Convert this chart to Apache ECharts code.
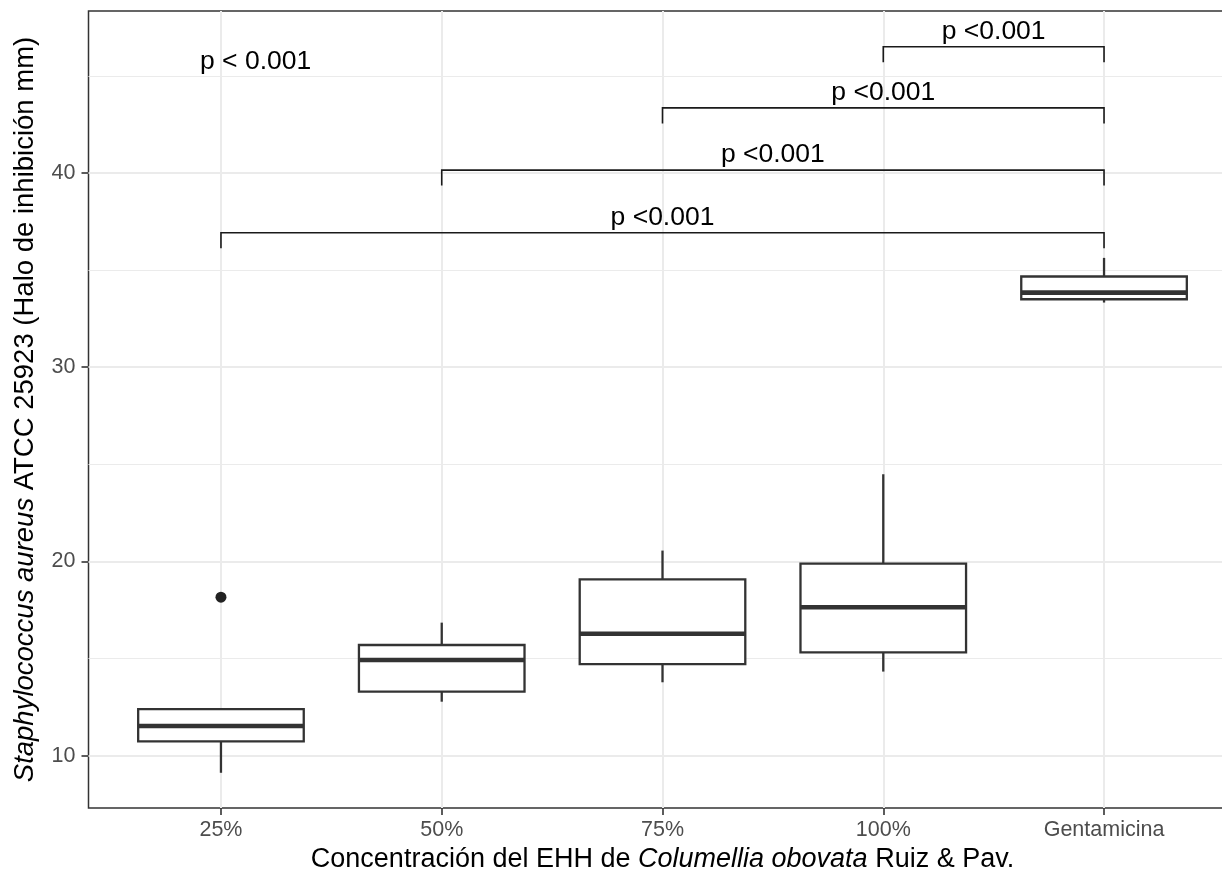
<!DOCTYPE html>
<html>
<head>
<meta charset="utf-8">
<script src="https://cdn.jsdelivr.net/npm/echarts@6/dist/echarts.min.js"></script>
<style>
  html, body { margin: 0; padding: 0; background: #ffffff; }
  #chart { width: 1222px; height: 874px; }
</style>
</head>
<body>
<div id="chart"></div>
<script>
// ---- data ----
const categories = ['25%', '50%', '75%', '100%', 'Gentamicina'];
const whiskerLow  = [9.12, 12.78, 13.78, 14.33, 33.33];
const q1          = [10.74, 13.30, 14.71, 15.32, 33.50];
const median      = [11.53, 14.93, 16.28, 17.64, 33.84];
const q3          = [12.40, 15.70, 19.08, 19.89, 34.67];
const whiskerHigh = [12.45, 16.85, 20.56, 24.49, 35.63];
const outliers    = [[1, 18.16]];

const bracketFrom   = [4, 3, 2, 1];
const bracketTo     = [5, 5, 5, 5];
const bracketY      = [46.5, 43.35, 40.15, 36.92];
const bracketLabels = ['p <0.001', 'p <0.001', 'p <0.001', 'p <0.001'];

const globalLabel    = 'p < 0.001';
const globalLabelPos = [0.905, 45.72];

const yTicks      = [10, 20, 30, 40];
const yMinorLines = [15, 25, 35, 45];
const xTicks      = [1, 2, 3, 4, 5];

// ---- styles ----
const FONT = '"Liberation Sans", Arial, Helvetica, sans-serif';
const INK = '#333333';
const GRID = '#ebebeb';
const BOX_WIDTH = 0.75;
const TICK_DROP = 0.8;

const chart = echarts.init(document.getElementById('chart'), null, { renderer: 'canvas' });

const boxData = categories.map((c, i) => [i + 1, whiskerLow[i], q1[i], median[i], q3[i], whiskerHigh[i]]);
const bracketData = bracketFrom.map((f, i) => [f, bracketTo[i], bracketY[i], i]);

function renderBox(params, api) {
  const x = api.value(0);
  const pLo = api.coord([x, api.value(1)]);
  const pQ1 = api.coord([x, api.value(2)]);
  const pMed = api.coord([x, api.value(3)]);
  const pQ3 = api.coord([x, api.value(4)]);
  const pHi = api.coord([x, api.value(5)]);
  const half = api.size([BOX_WIDTH, 0])[0] / 2;
  const cx = pLo[0];
  const ls = { stroke: INK, lineWidth: 2.3 };
  return {
    type: 'group',
    children: [
      { type: 'line', shape: { x1: cx, y1: pHi[1], x2: cx, y2: pQ3[1] }, style: ls },
      { type: 'line', shape: { x1: cx, y1: pQ1[1], x2: cx, y2: pLo[1] }, style: ls },
      { type: 'rect', shape: { x: cx - half, y: pQ3[1], width: 2 * half, height: pQ1[1] - pQ3[1] },
        style: { fill: '#ffffff', stroke: INK, lineWidth: 2.3 } },
      { type: 'line', shape: { x1: cx - half, y1: pMed[1], x2: cx + half, y2: pMed[1] },
        style: { stroke: INK, lineWidth: 4.6 } }
    ]
  };
}

function renderBracket(params, api) {
  const x1 = api.value(0), x2 = api.value(1), y = api.value(2);
  const idx = api.value(3);
  const p1 = api.coord([x1, y]);
  const p2 = api.coord([x2, y]);
  const drop = api.size([0, TICK_DROP])[1];
  return {
    type: 'group',
    children: [
      { type: 'polyline',
        shape: { points: [[p1[0], p1[1] + drop], [p1[0], p1[1]], [p2[0], p2[1]], [p2[0], p2[1] + drop]] },
        style: { stroke: '#1a1a1a', lineWidth: 1.6, fill: null } },
      { type: 'text',
        style: { x: (p1[0] + p2[0]) / 2, y: p1[1] - 15, text: bracketLabels[idx],
          fill: '#000000', font: '26.5px ' + FONT, textAlign: 'center', textVerticalAlign: 'middle' } }
    ]
  };
}

function renderGlobalLabel(params, api) {
  const p = api.coord([api.value(0), api.value(1)]);
  return {
    type: 'text',
    style: { x: p[0], y: p[1], text: globalLabel, fill: '#000000', font: '26.5px ' + FONT,
      textAlign: 'left', textVerticalAlign: 'middle' }
  };
}

const gridLineData = []
  .concat(yMinorLines.map(v => ({ yAxis: v, lineStyle: { color: GRID, width: 1.2, type: 'solid' } })))
  .concat(yTicks.map(v => ({ yAxis: v, lineStyle: { color: GRID, width: 2, type: 'solid' } })))
  .concat(xTicks.map(v => ({ xAxis: v, lineStyle: { color: GRID, width: 2, type: 'solid' } })));

const option = {
  backgroundColor: '#ffffff',
  animation: false,
  grid: {
    left: 88.5, top: 11, width: 1148, height: 797,
    show: true, borderColor: INK, borderWidth: 1.5, backgroundColor: '#ffffff',
    containLabel: false, outerBoundsMode: 'none'
  },
  xAxis: {
    type: 'value', min: 0.4, max: 5.6,
    axisLine: { show: false },
    splitLine: { show: false },
    axisTick: { show: true, length: 7, inside: false, customValues: xTicks,
      lineStyle: { color: INK, width: 1.6 } },
    axisLabel: { customValues: xTicks, margin: 11, color: '#4d4d4d', fontSize: 21.5, fontFamily: FONT,
      formatter: v => categories[Math.round(v) - 1] || '' },
    name: 'Concentración del EHH de {i|Columellia obovata} Ruiz & Pav.',
    nameLocation: 'middle', nameGap: 38,
    nameTextStyle: { color: '#000000', fontSize: 27, fontFamily: FONT,
      rich: { i: { fontStyle: 'italic', fontSize: 27, fontFamily: FONT, color: '#000000' } } }
  },
  yAxis: {
    type: 'value', min: 7.307, max: 48.34,
    axisLine: { show: false },
    splitLine: { show: false },
    axisTick: { show: true, length: 7, inside: false, customValues: yTicks,
      lineStyle: { color: INK, width: 1.6 } },
    axisLabel: { customValues: yTicks, margin: 13, color: '#4d4d4d', fontSize: 21.5, fontFamily: FONT },
    name: '{i|Staphylococcus aureus} ATCC 25923 (Halo de inhibición mm)',
    nameLocation: 'middle', nameGap: 49,
    nameTextStyle: { color: '#000000', fontSize: 27.5, fontFamily: FONT,
      rich: { i: { fontStyle: 'italic', fontSize: 27.5, fontFamily: FONT, color: '#000000' } } }
  },
  series: [
    {
      type: 'line', data: [], z: 1, silent: true,
      markLine: { silent: true, symbol: ['none', 'none'], label: { show: false },
        animation: false, data: gridLineData }
    },
    {
      type: 'custom', z: 5, silent: true, data: boxData, renderItem: renderBox,
      encode: { x: 0, y: [1, 2, 3, 4, 5] }
    },
    {
      type: 'scatter', z: 6, silent: true, data: outliers, symbol: 'circle', symbolSize: 11,
      itemStyle: { color: '#222222', opacity: 1 }
    },
    {
      type: 'custom', z: 6, silent: true, data: bracketData, renderItem: renderBracket,
      encode: { x: [0, 1], y: 2 }
    },
    {
      type: 'custom', z: 6, silent: true, data: [globalLabelPos], renderItem: renderGlobalLabel,
      encode: { x: 0, y: 1 }
    }
  ]
};

chart.setOption(option);
</script>
</body>
</html>
